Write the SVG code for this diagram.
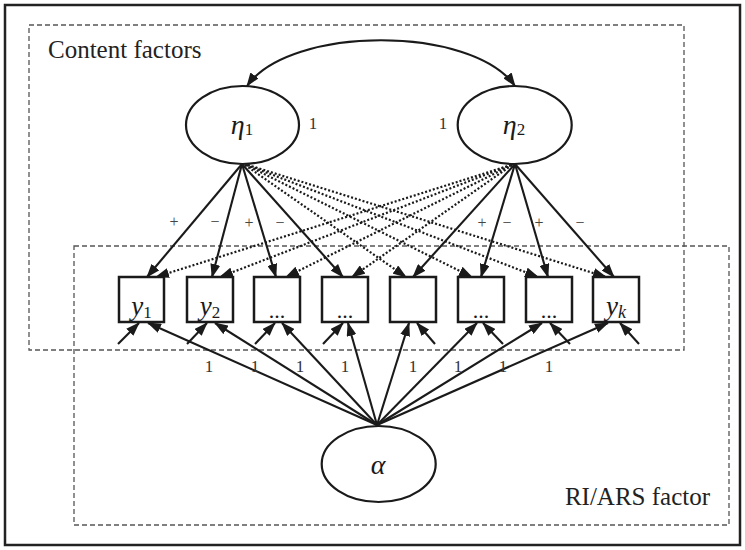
<svg xmlns="http://www.w3.org/2000/svg" width="745" height="550" viewBox="0 0 745 550">
<style>
text{font-family:"Liberation Serif","Times New Roman",serif;fill:#1a1a1a}
.frame{fill:none;stroke:#222;stroke-width:2.5}
.grp{fill:none;stroke:#555;stroke-width:1.3;stroke-dasharray:5 3}
.lat{fill:#fff;stroke:#1a1a1a;stroke-width:2.2}
.obs{fill:#fff;stroke:#1a1a1a;stroke-width:2.5}
.s{fill:none;stroke:#1a1a1a;stroke-width:2.1;marker-end:url(#ah)}
.d{fill:none;stroke:#1a1a1a;stroke-width:2.2;stroke-dasharray:2 2;marker-end:url(#ah)}
.e{fill:none;stroke:#1a1a1a;stroke-width:2.1;marker-end:url(#ah)}
.sg{font-size:16px;fill:#444}
.one{font-size:17px;fill:#333}
.lbl{font-size:25px;fill:#222}
</style>
<defs>
<marker id="ah" markerUnits="userSpaceOnUse" markerWidth="14" markerHeight="10" refX="13" refY="5" orient="auto-start-reverse">
<path d="M0,0 L14,5 L0,10 z" fill="#1a1a1a"/>
</marker>
</defs>
<rect class="frame" x="5" y="5" width="735" height="540"/>
<g id="content-factors-box">
<rect class="grp" x="29" y="25" width="655" height="325"/>
<text class="lbl" x="48" y="58">Content factors</text>
</g>
<g id="ri-ars-box">
<rect class="grp" x="74" y="246" width="655" height="279"/>
<text class="lbl" x="710" y="505" text-anchor="end">RI/ARS factor</text>
</g>
<g id="connectors">
<path d="M247,86 C290,25 472,25 515,86" fill="none" stroke="#1a1a1a" stroke-width="2.1" marker-start="url(#ah)" marker-end="url(#ah)"/>
<line class="s" x1="242" y1="164" x2="147" y2="277"/>
<line class="s" x1="242" y1="164" x2="212" y2="277"/>
<line class="s" x1="242" y1="164" x2="276" y2="277"/>
<line class="s" x1="242" y1="164" x2="343" y2="277"/>
<line class="d" x1="245" y1="165" x2="406" y2="277"/>
<line class="d" x1="246" y1="165" x2="472" y2="277"/>
<line class="d" x1="247" y1="165" x2="538" y2="277"/>
<line class="d" x1="248" y1="165" x2="606" y2="277"/>
<line class="s" x1="515" y1="164" x2="413" y2="277"/>
<line class="s" x1="515" y1="164" x2="481" y2="277"/>
<line class="s" x1="515" y1="164" x2="548" y2="277"/>
<line class="s" x1="515" y1="164" x2="614" y2="277"/>
<line class="d" x1="511" y1="165" x2="156" y2="277"/>
<line class="d" x1="511" y1="165" x2="220" y2="277"/>
<line class="d" x1="512" y1="165" x2="286" y2="277"/>
<line class="d" x1="512" y1="165" x2="352" y2="277"/>
<line class="s" x1="377" y1="425" x2="148" y2="323"/>
<line class="s" x1="377" y1="425" x2="215" y2="323"/>
<line class="s" x1="377" y1="425" x2="282" y2="323"/>
<line class="s" x1="377" y1="425" x2="348" y2="323"/>
<line class="s" x1="377" y1="425" x2="409" y2="323"/>
<line class="s" x1="377" y1="425" x2="477" y2="323"/>
<line class="s" x1="377" y1="425" x2="542" y2="323"/>
<line class="s" x1="377" y1="425" x2="608" y2="323"/>
<line class="e" x1="118" y1="344" x2="139" y2="323"/>
<line class="e" x1="187" y1="344" x2="207" y2="323"/>
<line class="e" x1="255" y1="344" x2="275" y2="323"/>
<line class="e" x1="323" y1="344" x2="343" y2="323"/>
<line class="e" x1="435" y1="344" x2="417" y2="323"/>
<line class="e" x1="503" y1="344" x2="483" y2="323"/>
<line class="e" x1="570" y1="344" x2="550" y2="323"/>
<line class="e" x1="639" y1="344" x2="620" y2="323"/>
<text class="sg" x="174" y="227" text-anchor="middle">+</text>
<text class="sg" x="215" y="227" text-anchor="middle">−</text>
<text class="sg" x="249" y="228" text-anchor="middle">+</text>
<text class="sg" x="280" y="228" text-anchor="middle">−</text>
<text class="sg" x="482" y="228" text-anchor="middle">+</text>
<text class="sg" x="507" y="228" text-anchor="middle">−</text>
<text class="sg" x="539" y="228" text-anchor="middle">+</text>
<text class="sg" x="580" y="228" text-anchor="middle">−</text>
<text class="one" x="209" y="372" text-anchor="middle">1</text>
<text class="one" x="255" y="372" text-anchor="middle">1</text>
<text class="one" x="300" y="372" text-anchor="middle">1</text>
<text class="one" x="345" y="372" text-anchor="middle">1</text>
<text class="one" x="413" y="372" text-anchor="middle">1</text>
<text class="one" x="458" y="372" text-anchor="middle">1</text>
<text class="one" x="503" y="372" text-anchor="middle">1</text>
<text class="one" x="549" y="372" text-anchor="middle">1</text>
<text class="one" x="313" y="129" text-anchor="middle">1</text>
<text class="one" x="443" y="129" text-anchor="middle">1</text>
</g>
<g id="eta1">
<ellipse class="lat" cx="242.5" cy="125" rx="56.5" ry="39"/>
<text x="242" y="134" text-anchor="middle"><tspan font-style="italic" font-size="28">η</tspan><tspan font-size="17" dy="1">1</tspan></text>
</g>
<g id="eta2">
<ellipse class="lat" cx="514.7" cy="125" rx="57" ry="39"/>
<text x="514" y="134" text-anchor="middle"><tspan font-style="italic" font-size="28">η</tspan><tspan font-size="17" dy="1">2</tspan></text>
</g>
<g id="alpha">
<ellipse class="lat" cx="378.7" cy="464" rx="57" ry="38"/>
<text x="378" y="474" text-anchor="middle" font-style="italic" font-size="28">α</text>
</g>
<g id="y1"><rect class="obs" x="119" y="277" width="45" height="45"/><text x="141.5" y="315" text-anchor="middle"><tspan font-style="italic" font-size="27">y</tspan><tspan font-size="17" dy="3">1</tspan></text></g>
<g id="y2"><rect class="obs" x="187" y="277" width="46" height="45"/><text x="210" y="315" text-anchor="middle"><tspan font-style="italic" font-size="27">y</tspan><tspan font-size="17" dy="3">2</tspan></text></g>
<g id="y3"><rect class="obs" x="254" y="277" width="46" height="45"/><text x="277" y="318" text-anchor="middle" font-size="22">...</text></g>
<g id="y4"><rect class="obs" x="322" y="277" width="46" height="45"/><text x="345" y="318" text-anchor="middle" font-size="22">...</text></g>
<g id="y5"><rect class="obs" x="390" y="277" width="46" height="45"/></g>
<g id="y6"><rect class="obs" x="458" y="277" width="46" height="45"/><text x="481" y="318" text-anchor="middle" font-size="22">...</text></g>
<g id="y7"><rect class="obs" x="526" y="277" width="46" height="45"/><text x="549" y="318" text-anchor="middle" font-size="22">...</text></g>
<g id="yk"><rect class="obs" x="593" y="277" width="46" height="45"/><text x="616" y="315" text-anchor="middle"><tspan font-style="italic" font-size="27">y</tspan><tspan font-style="italic" font-size="18" dy="3">k</tspan></text></g>
</svg>
